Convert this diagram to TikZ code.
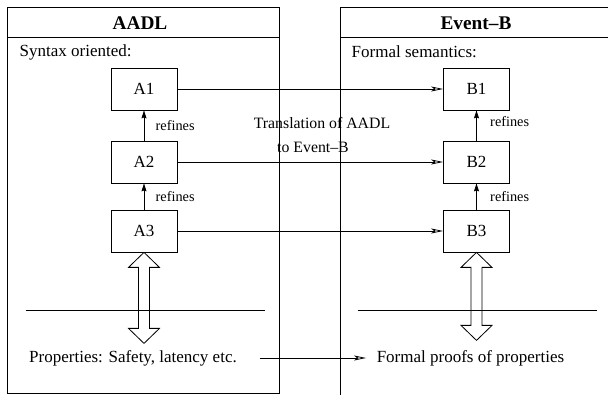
\documentclass[tikz,border=0pt]{standalone}
\usepackage{fontspec}
\setmainfont{Liberation Serif}
\usetikzlibrary{arrows.meta,positioning}

\begin{document}
\begin{tikzpicture}[x=1pt, y=-1pt, line width=0.8pt,
  >={Stealth[open, length=12pt, width=5pt, inset=3pt]},
  every node/.style={font=\fontsize{17}{20}\selectfont},
  level/.style={draw, minimum width=66pt, minimum height=42pt, inner sep=0pt},
  refine/.style={-{Stealth[length=8pt, width=5pt, inset=1pt]}},
  small/.style={font=\fontsize{14.3}{16}\selectfont},
  title/.style={font=\fontsize{19.3}{22}\bfseries}]
  \useasboundingbox (0,0) rectangle (608,395);
  % the two frames
  \draw (7,7) rectangle (279,393);
  \draw (7,37) -- (279,37);
  \draw (608,7) -- (340,7) -- (340,395);
  \draw (340,37) -- (608,37);
  \node[title] (aadl) at (140,23) {AADL};
  \node[title] (eventb) at (476,23) {Event--B};
  \node[right] (syntax) at (16,52) {Syntax oriented:};
  \node[right] (formal) at (348,52) {Formal semantics:};
  % refinement chains
  \node[level] (a1) at (144,89) {A1};
  \node[level] (a2) at (144,162) {A2};
  \node[level] (a3) at (144,231) {A3};
  \node[level] (b1) at (476.5,89) {B1};
  \node[level] (b2) at (476.5,162) {B2};
  \node[level] (b3) at (476.5,231) {B3};
  \draw[refine] (a2) -- (a1) node[midway, right=8pt, small] {refines};
  \draw[refine] (a3) -- (a2) node[midway, right=8pt, small] {refines};
  \draw[refine] (b2) -- (b1) node[midway, right=10pt, yshift=4pt, small] {refines};
  \draw[refine] (b3) -- (b2) node[midway, right=10pt, small] {refines};
  % translation
  \draw[->] (a1) -- (b1);
  \draw[->] (a2) -- (b2);
  \draw[->] (a3) -- (b3);
  \node[font=\fontsize{15.8}{18}\selectfont] (trans) at (322,123) {Translation of AADL};
  \node[font=\fontsize{15.8}{18}\selectfont] (to) at (313,147) {to Event--B};
  % properties
  \draw (26,310) -- (265,310);
  \draw (358,310) -- (597,310);
  \foreach \n/\len in {a3/91, b3/88} {
    \draw (\n.south)
      -- ++(15.5,15) -- ++(-10,0) -- ++(0,\len-30) -- ++(10,0)
      -- ++(-15.5,15) -- ++(-15.5,-15) -- ++(10,0) -- ++(0,30-\len)
      -- ++(-10,0) -- cycle;
  }
  \node (props) at (133,358) {Properties: Safety, latency etc.};
  \node (proofs) at (470.5,358) {Formal proofs of properties};
  \draw[->] ([xshift=19pt]props.east) -- ([xshift=-7pt]proofs.west);
\end{tikzpicture}
\end{document}
